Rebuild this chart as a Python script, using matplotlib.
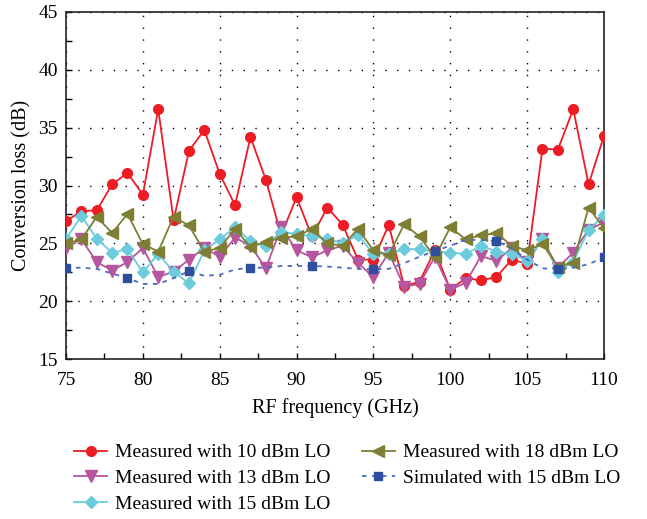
import numpy as np
import matplotlib
matplotlib.use("Agg")
import matplotlib.pyplot as plt
from matplotlib.ticker import MultipleLocator

plt.rcParams["font.family"] = ["Liberation Serif", "DejaVu Serif"]

freq = np.arange(75, 111)
lo10 = [26.9, 27.8, 27.85, 30.1, 31.1, 29.2, 36.6, 27.0, 33.0, 34.8, 31.0, 28.3,
        34.2, 30.5, 25.7, 29.0, 25.6, 28.1, 26.6, 23.6, 23.6, 26.6, 21.3, 21.7,
        24.4, 21.0, 22.0, 21.8, 22.1, 23.6, 23.25, 33.2, 33.1, 36.6, 30.1, 34.3]
lo13 = [24.6, 25.35, 23.4, 22.65, 23.4, 24.6, 22.1, 22.55, 23.6, 24.6, 23.85, 25.5,
        24.8, 22.85, 26.4, 24.4, 23.8, 24.4, 24.8, 23.3, 22.1, 24.2, 21.25, 21.5,
        23.85, 21.0, 21.6, 23.9, 23.5, 24.6, 23.4, 25.35, 22.9, 24.2, 26.2, 26.8]
lo15 = [25.35, 27.4, 25.4, 24.2, 24.5, 22.5, 24.1, 22.55, 21.55, 24.4, 25.35, 26.4,
        25.2, 24.8, 26.0, 25.8, 25.65, 25.35, 25.05, 25.7, 24.1, 24.1, 24.5, 24.5,
        24.3, 24.2, 24.1, 24.8, 24.3, 24.1, 23.5, 25.35, 22.55, 23.4, 26.15, 27.45]
lo18 = [25.0, 25.35, 27.3, 25.9, 27.55, 24.95, 24.3, 27.3, 26.55, 24.3, 24.6, 26.25,
        24.7, 25.1, 25.5, 25.6, 26.25, 25.0, 24.8, 26.25, 24.4, 24.0, 26.65, 25.6,
        23.8, 26.4, 25.35, 25.7, 25.9, 24.8, 24.4, 24.95, 23.0, 23.35, 28.1, 26.3]
sim15 = [22.9, 22.9, 22.8, 22.4, 22.0, 21.5, 21.5, 22.0, 22.6, 22.2, 22.3, 22.75,
         22.9, 22.9, 23.05, 23.05, 23.05, 23.0, 22.9, 22.8, 22.75, 22.8, 23.3, 23.85,
         24.35, 24.8, 25.3, 25.3, 25.2, 24.6, 23.6, 22.85, 22.75, 22.9, 23.2, 23.8]
sim_marks = [0, 4, 8, 12, 16, 20, 24, 28, 32, 35]

fig = plt.figure(figsize=(6.47, 5.19), dpi=100, facecolor="white")
ax = fig.add_axes([0.102, 0.308, 0.8315, 0.669])

ax.plot(freq, lo10, color="#ED1C24", lw=1.3, marker="o", ms=7, mec="#ED1C24",
        label="Measured with 10 dBm LO", zorder=3)
ax.plot(freq, lo13, color="#B5569F", lw=1.3, marker="v", ms=8.5,
        label="Measured with 13 dBm LO", zorder=3)
ax.plot(freq, lo15, color="#6CCBDC", lw=1.3, marker="D", ms=6.5,
        label="Measured with 15 dBm LO", zorder=3)
ax.plot(freq, lo18, color="#7E7E34", lw=1.3, marker="<", ms=8.5,
        label="Measured with 18 dBm LO", zorder=3)
ax.plot(freq, sim15, color="#4A6BBE", lw=1.3, ls=(0, (2.5, 3)), marker="s", ms=6,
        mfc="#2E4F9E", mec="#2E4F9E", markevery=sim_marks,
        label="Simulated with 15 dBm LO", zorder=3)

ax.set_xlim(75, 110)
ax.set_ylim(15, 45)
ax.xaxis.set_major_locator(MultipleLocator(5))
ax.xaxis.set_minor_locator(MultipleLocator(2.5))
ax.yaxis.set_major_locator(MultipleLocator(5))
ax.yaxis.set_minor_locator(MultipleLocator(2.5))
ax.tick_params(which="both", direction="in", labelsize=14, length=4, width=1)
ax.tick_params(axis="x", which="major", pad=9)
ax.tick_params(axis="y", which="major", pad=6)
ax.grid(True, which="major", color="black", lw=1.0, ls=(0, (1, 7.5)))
ax.set_axisbelow(True)
for s in ax.spines.values():
    s.set_linewidth(1.2)
    s.set_color("#222222")

ax.set_xlabel("RF frequency (GHz)", fontsize=14.5, labelpad=7)
ax.set_ylabel("Conversion loss (dB)", fontsize=14.5, labelpad=5)

fig.legend(loc="upper left", bbox_to_anchor=(0.103, 0.16), ncol=2,
           frameon=False, fontsize=14, handlelength=1.7, columnspacing=1.6,
           labelspacing=0.42, handletextpad=0.4, borderaxespad=0)

fig.savefig("out.png", dpi=100, facecolor="white")
